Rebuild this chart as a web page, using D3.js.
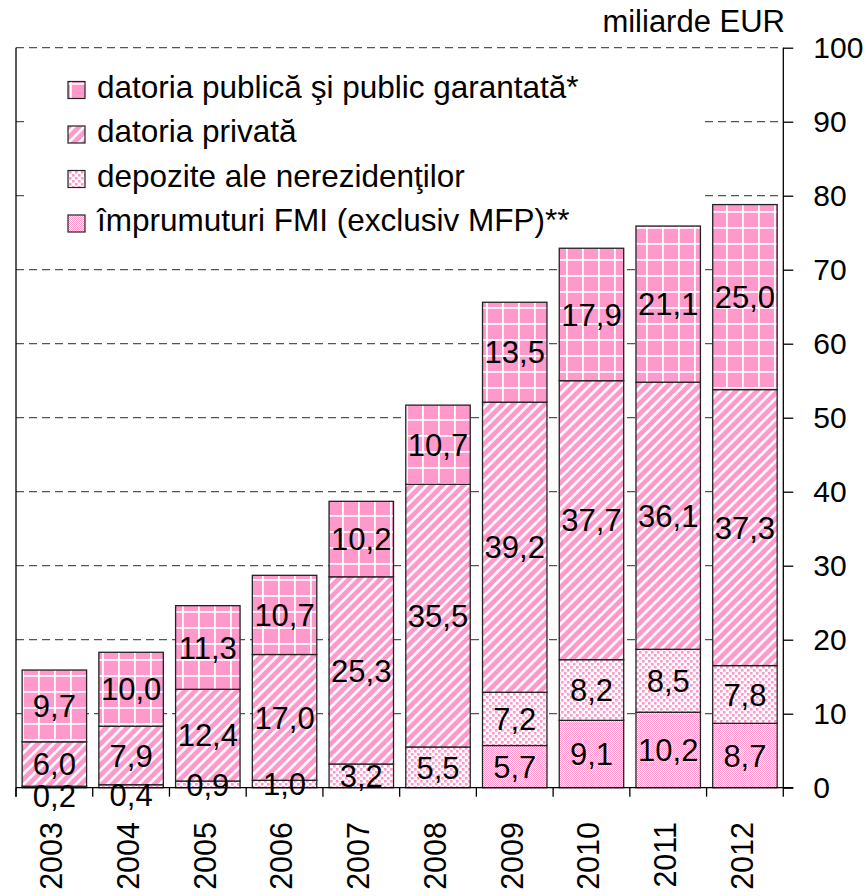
<!DOCTYPE html>
<html><head><meta charset="utf-8">
<script src="https://cdn.jsdelivr.net/npm/d3@7"></script>
<style>
html,body{margin:0;padding:0;background:#fff;}
svg text{font-family:"Liberation Sans",Arial,sans-serif;fill:#000;}
</style></head>
<body><svg id="c" width="866" height="896"></svg>
<script>
const years = ["2003","2004","2005","2006","2007","2008","2009","2010","2011","2012"];
const imfLoans   = [0,0,0,0,0,0,5.7,9.1,10.2,8.7];
const deposits   = [0.2,0.4,0.9,1.0,3.2,5.5,7.2,8.2,8.5,7.8];
const privateDebt= [6.0,7.9,12.4,17.0,25.3,35.5,39.2,37.7,36.1,37.3];
const publicDebt = [9.7,10.0,11.3,10.7,10.2,10.7,13.5,17.9,21.1,25.0];
const seriesNames = ["împrumuturi FMI (exclusiv MFP)**","depozite ale nerezidenţilor","datoria privată","datoria publică şi public garantată*"];
const seriesKeys = ["imf","dep","priv","pub"];
const yTicks = [0,10,20,30,40,50,60,70,80,90,100];
const unitLabel = "miliarde EUR";
const fmt = v => v.toFixed(1).replace(".", ",");

const table = years.map((yr,i)=>({year:yr, imf:imfLoans[i], dep:deposits[i], priv:privateDebt[i], pub:publicDebt[i]}));

const svg = d3.select("#c");
const pLeft = 16, pRight = 783.3, pTop = 47.7, pBottom = 787.7;
const PINK = "#ff99cc";

// patterns
const defs = svg.append("defs");
let p = defs.append("pattern").attr("id","pat-pub").attr("patternUnits","userSpaceOnUse").attr("width",16).attr("height",16).attr("x",6).attr("y",3);
p.append("rect").attr("width",16).attr("height",16).attr("fill",PINK);
p.append("rect").attr("x",0).attr("y",0).attr("width",1.8).attr("height",16).attr("fill","#fff");
p.append("rect").attr("x",0).attr("y",0).attr("width",16).attr("height",1.8).attr("fill","#fff");

p = defs.append("pattern").attr("id","pat-priv").attr("patternUnits","userSpaceOnUse").attr("width",7.4).attr("height",7.4).attr("patternTransform","rotate(45)");
p.append("rect").attr("width",7.4).attr("height",7.4).attr("fill",PINK);
p.append("rect").attr("x",0).attr("width",2.6).attr("height",7.4).attr("fill","#fff");

p = defs.append("pattern").attr("id","pat-dep").attr("patternUnits","userSpaceOnUse").attr("width",6).attr("height",6);
p.append("rect").attr("width",6).attr("height",6).attr("fill","#fff");
p.append("rect").attr("x",0).attr("y",0).attr("width",2.6).attr("height",2.6).attr("fill",PINK);
p.append("rect").attr("x",3).attr("y",3).attr("width",2.6).attr("height",2.6).attr("fill",PINK);

p = defs.append("pattern").attr("id","pat-imf").attr("patternUnits","userSpaceOnUse").attr("width",2).attr("height",2);
p.append("rect").attr("width",2).attr("height",2).attr("fill","#fff");
p.append("rect").attr("x",0).attr("y",0).attr("width",1).attr("height",1).attr("fill",PINK);
p.append("rect").attr("x",1).attr("y",1).attr("width",1).attr("height",1).attr("fill",PINK);

const x = d3.scaleBand().domain(years).range([pLeft,pRight]).paddingInner(0.16).paddingOuter(0.08);
const y = d3.scaleLinear().domain([0,100]).range([pBottom,pTop]);

// gridlines
svg.append("g").selectAll("line").data(yTicks.filter(t=>t>0)).join("line")
  .attr("x1",pLeft).attr("x2",pRight).attr("y1",d=>y(d)).attr("y2",d=>y(d))
  .attr("stroke","#555").attr("stroke-width",1.3).attr("stroke-dasharray","8,5");

// legend background
const lg = svg.append("g");
lg.append("rect").attr("x",28).attr("y",60).attr("width",672).attr("height",188).attr("fill","#fff");

// bars
const stack = d3.stack().keys(seriesKeys)(table);
const gBars = svg.append("g");
stack.forEach(layer=>{
  const key = layer.key;
  gBars.append("g").selectAll("rect").data(layer.filter(d=>d[1]-d[0]>0)).join("rect")
    .attr("x",d=>x(d.data.year)).attr("width",x.bandwidth())
    .attr("y",d=>y(d[1])).attr("height",d=>y(d[0])-y(d[1]))
    .attr("fill",`url(#pat-${key})`).attr("stroke","#222").attr("stroke-width",1.3);
});

// axes
const axG = svg.append("g");
axG.append("line").attr("x1",pLeft).attr("x2",pRight+10).attr("y1",pBottom).attr("y2",pBottom).attr("stroke","#000").attr("stroke-width",1.3);
axG.append("line").attr("x1",pLeft).attr("x2",pLeft).attr("y1",pTop).attr("y2",pBottom+9).attr("stroke","#000").attr("stroke-width",1.3);
const yAxis = d3.axisRight(y).tickValues(yTicks).tickSize(10).tickPadding(20).tickFormat(d=>d);
const ya = svg.append("g").attr("transform",`translate(${pRight},0)`).call(yAxis);
ya.select(".domain").attr("stroke","#000").attr("stroke-width",1.3).attr("d",`M0,${pTop}V${pBottom+9}`);
ya.selectAll(".tick line").attr("stroke","#000").attr("stroke-width",1.3);
ya.selectAll(".tick text").attr("font-size",30).attr("font-family","Liberation Sans, Arial, sans-serif").attr("fill","#000");
// x boundary ticks
const bounds = years.map(yy=>x(yy)-x.step()*x.paddingInner()/2);
axG.selectAll("line.xt").data(bounds).join("line").attr("class","xt")
  .attr("x1",d=>d).attr("x2",d=>d).attr("y1",pBottom).attr("y2",pBottom+9).attr("stroke","#000").attr("stroke-width",1.3);

// year labels
svg.append("g").selectAll("text").data(years).join("text")
  .attr("transform",d=>`translate(${x(d)+x.bandwidth()/2},822) rotate(-90)`)
  .attr("text-anchor","end").attr("dy","0.26em").attr("font-size",30.5).text(d=>d);

// value labels
const gLab = svg.append("g");
stack.forEach(layer=>{
  gLab.append("g").selectAll("text").data(layer.filter(d=>d[1]-d[0]>0)).join("text")
    .attr("x",d=>x(d.data.year)+x.bandwidth()/2)
    .attr("y",d=>{const c=y((d[0]+d[1])/2); return (d[1]-d[0])<0.5 ? c+9 : c;})
    .attr("dy","0.36em").attr("text-anchor","middle").attr("font-size",31)
    .text(d=>fmt(d[1]-d[0]));
});

// unit label
svg.append("text").attr("x",785).attr("y",32).attr("text-anchor","end").attr("font-size",31).text(unitLabel);

// legend
const legendOrder = [3,2,1,0];
legendOrder.forEach((si,i)=>{
  const cy = 90 + i*44.5;
  lg.append("rect").attr("x",68).attr("y",cy-8.5).attr("width",17).attr("height",17)
    .attr("fill",`url(#pat-${seriesKeys[si]})`).attr("stroke","#222").attr("stroke-width",1.2);
  lg.append("text").attr("x",97).attr("y",cy+7.5).attr("font-size",31.5).text(seriesNames[si]);
});
</script></body></html>
